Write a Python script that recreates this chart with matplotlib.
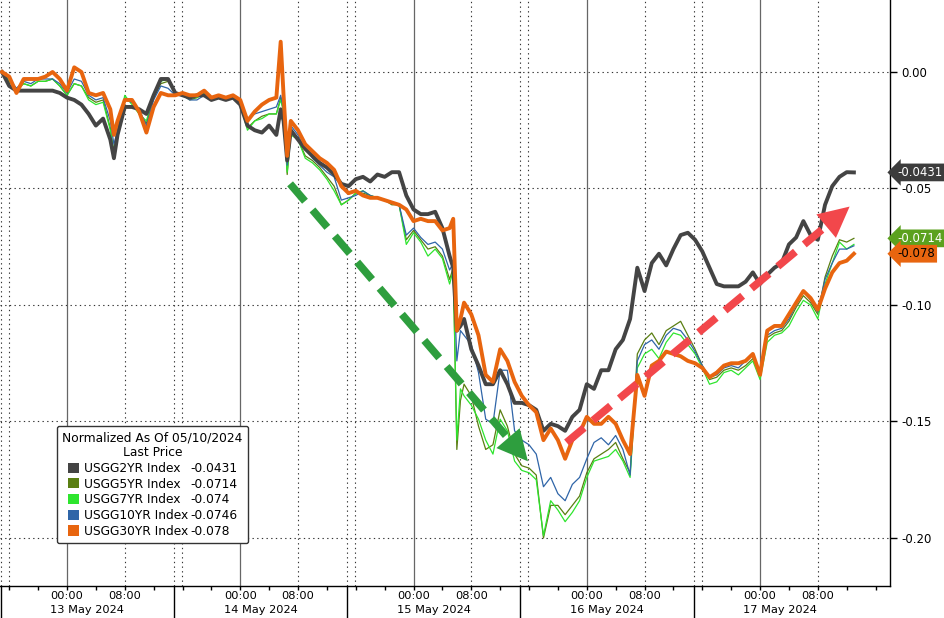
import matplotlib.pyplot as plt
import matplotlib.ticker as mticker
from matplotlib.patches import Patch

plt.rcParams["font.family"] = "DejaVu Sans"
plt.rcParams["axes.unicode_minus"] = False

# ── Data: yield change normalized as of 05/10/2024 ──────────
# x = hours after 13 May 2024 00:00 (session gaps compressed)
hours = [-9, -8, -7, -6, -5, -4, -3, -2, -1, 0, 1, 2, 3, 4, 5, 6,
         6.5, 7, 8, 9, 10, 11, 12, 13, 14, 15,
         16, 17, 18, 19, 20, 21, 22, 23, 24, 25, 26, 27, 28, 29,
         29.6, 30, 30.5, 31, 32, 33, 34, 35, 36, 37, 38, 39,
         40, 41, 42, 43, 44, 45, 46, 47, 48, 49, 50, 51, 52, 53,
         53.5, 54, 54.5, 55, 56, 57, 58, 59, 60, 61, 62, 63, 64, 65,
         66, 67, 68, 69, 70, 71, 72, 73, 74, 75, 76, 77, 78,
         79, 80, 81, 82, 83, 84, 85, 86, 87, 88, 89, 90, 91, 92, 93,
         94, 95, 96, 97, 98, 99, 100, 101, 102, 103, 104, 105, 106, 107, 108, 109]

usgg2yr = [0.000, -0.006, -0.008, -0.008, -0.008, -0.008, -0.008, -0.008, -0.009, -0.011, -0.012, -0.014, -0.018, -0.023, -0.020, -0.029,
           -0.037, -0.027, -0.015, -0.015, -0.016, -0.018, -0.010, -0.003, -0.003, -0.009,
           -0.010, -0.011, -0.010, -0.010, -0.012, -0.011, -0.012, -0.011, -0.014, -0.023, -0.025, -0.026, -0.023, -0.027,
           -0.016, -0.021, -0.038, -0.025, -0.029, -0.033, -0.036, -0.039, -0.041, -0.044, -0.048, -0.049,
           -0.046, -0.045, -0.047, -0.044, -0.045, -0.043, -0.043, -0.053, -0.059, -0.061, -0.061, -0.060, -0.067, -0.079,
           -0.084, -0.111, -0.109, -0.106, -0.119, -0.126, -0.134, -0.134, -0.128, -0.134, -0.142, -0.142, -0.143, -0.145,
           -0.154, -0.151, -0.152, -0.154, -0.148, -0.145, -0.134, -0.136, -0.128, -0.128, -0.119, -0.115, -0.106,
           -0.084, -0.094, -0.082, -0.078, -0.083, -0.076, -0.070, -0.069, -0.072, -0.077, -0.084, -0.091, -0.092, -0.092, -0.092,
           -0.090, -0.086, -0.091, -0.087, -0.084, -0.082, -0.074, -0.071, -0.064, -0.070, -0.072, -0.057, -0.049, -0.045, -0.043, -0.0431]

usgg5yr = [0.000, -0.004, -0.007, -0.005, -0.006, -0.004, -0.004, -0.003, -0.006, -0.010, -0.005, -0.006, -0.011, -0.013, -0.012, -0.024,
           -0.036, -0.026, -0.011, -0.013, -0.018, -0.022, -0.011, -0.005, -0.004, -0.009,
           -0.010, -0.012, -0.011, -0.009, -0.012, -0.011, -0.012, -0.011, -0.014, -0.024, -0.021, -0.019, -0.018, -0.018,
           -0.011, -0.017, -0.044, -0.026, -0.029, -0.036, -0.038, -0.041, -0.045, -0.049, -0.057, -0.055,
           -0.052, -0.052, -0.053, -0.054, -0.055, -0.057, -0.057, -0.072, -0.068, -0.072, -0.076, -0.075, -0.079, -0.089,
           -0.084, -0.162, -0.141, -0.134, -0.139, -0.152, -0.162, -0.160, -0.145, -0.152, -0.164, -0.169, -0.170, -0.173,
           -0.200, -0.186, -0.186, -0.190, -0.186, -0.182, -0.172, -0.166, -0.164, -0.162, -0.159, -0.166, -0.172,
           -0.121, -0.115, -0.112, -0.117, -0.111, -0.109, -0.107, -0.113, -0.119, -0.126, -0.132, -0.131, -0.128, -0.127, -0.128,
           -0.126, -0.123, -0.130, -0.114, -0.112, -0.111, -0.107, -0.101, -0.096, -0.099, -0.104, -0.088, -0.079, -0.072, -0.073, -0.0714]

usgg7yr = [0.000, -0.004, -0.008, -0.005, -0.006, -0.004, -0.004, -0.003, -0.006, -0.010, -0.005, -0.006, -0.012, -0.014, -0.013, -0.025,
           -0.034, -0.026, -0.010, -0.014, -0.018, -0.021, -0.010, -0.004, -0.003, -0.009,
           -0.010, -0.011, -0.011, -0.009, -0.012, -0.011, -0.012, -0.011, -0.014, -0.025, -0.021, -0.020, -0.018, -0.018,
           -0.012, -0.017, -0.043, -0.027, -0.029, -0.037, -0.039, -0.042, -0.046, -0.051, -0.057, -0.055,
           -0.052, -0.051, -0.053, -0.054, -0.055, -0.056, -0.057, -0.074, -0.069, -0.073, -0.079, -0.076, -0.080, -0.091,
           -0.085, -0.158, -0.136, -0.139, -0.143, -0.149, -0.158, -0.164, -0.149, -0.154, -0.167, -0.171, -0.172, -0.175,
           -0.199, -0.184, -0.188, -0.193, -0.189, -0.184, -0.174, -0.167, -0.166, -0.165, -0.162, -0.167, -0.174,
           -0.127, -0.121, -0.119, -0.123, -0.116, -0.112, -0.113, -0.117, -0.121, -0.127, -0.134, -0.133, -0.129, -0.128, -0.130,
           -0.127, -0.124, -0.132, -0.116, -0.113, -0.112, -0.109, -0.103, -0.098, -0.100, -0.106, -0.091, -0.082, -0.073, -0.076, -0.074]

usgg10yr = [0.000, -0.003, -0.007, -0.004, -0.005, -0.003, -0.003, -0.003, -0.005, -0.009, -0.003, -0.004, -0.010, -0.012, -0.011, -0.021,
            -0.031, -0.025, -0.012, -0.013, -0.016, -0.023, -0.012, -0.006, -0.007, -0.010,
            -0.010, -0.012, -0.012, -0.010, -0.012, -0.011, -0.012, -0.011, -0.013, -0.020, -0.018, -0.017, -0.016, -0.015,
            -0.010, -0.016, -0.040, -0.023, -0.027, -0.033, -0.037, -0.040, -0.043, -0.045, -0.055, -0.054,
            -0.053, -0.051, -0.053, -0.054, -0.055, -0.056, -0.057, -0.070, -0.067, -0.071, -0.074, -0.073, -0.076, -0.085,
            -0.082, -0.124, -0.111, -0.113, -0.117, -0.129, -0.149, -0.151, -0.128, -0.128, -0.154, -0.158, -0.160, -0.164,
            -0.178, -0.174, -0.181, -0.184, -0.177, -0.174, -0.166, -0.159, -0.157, -0.160, -0.156, -0.162, -0.173,
            -0.124, -0.117, -0.115, -0.119, -0.113, -0.110, -0.111, -0.115, -0.120, -0.126, -0.131, -0.130, -0.127, -0.126, -0.127,
            -0.124, -0.121, -0.129, -0.113, -0.111, -0.110, -0.106, -0.100, -0.094, -0.098, -0.103, -0.089, -0.082, -0.076, -0.076, -0.0746]

usgg30yr = [0.000, -0.002, -0.009, -0.003, -0.003, -0.003, -0.002, 0.000, -0.003, -0.008, 0.002, 0.000, -0.009, -0.010, -0.009, -0.016,
            -0.027, -0.021, -0.012, -0.012, -0.017, -0.026, -0.015, -0.009, -0.010, -0.010,
            -0.009, -0.010, -0.010, -0.008, -0.011, -0.010, -0.011, -0.010, -0.012, -0.021, -0.017, -0.014, -0.012, -0.011,
            0.013, -0.010, -0.036, -0.021, -0.025, -0.031, -0.034, -0.037, -0.039, -0.042, -0.049, -0.052,
            -0.051, -0.053, -0.054, -0.054, -0.055, -0.056, -0.057, -0.059, -0.064, -0.063, -0.064, -0.064, -0.068, -0.067,
            -0.063, -0.111, -0.106, -0.099, -0.104, -0.113, -0.130, -0.133, -0.119, -0.124, -0.133, -0.139, -0.143, -0.146,
            -0.158, -0.153, -0.158, -0.166, -0.158, -0.155, -0.148, -0.151, -0.151, -0.148, -0.151, -0.158, -0.164,
            -0.130, -0.139, -0.126, -0.124, -0.120, -0.121, -0.122, -0.124, -0.125, -0.127, -0.131, -0.129, -0.126, -0.125, -0.125,
            -0.124, -0.121, -0.130, -0.111, -0.109, -0.109, -0.104, -0.099, -0.094, -0.097, -0.102, -0.093, -0.086, -0.082, -0.081, -0.078]

series_names = ["USGG2YR Index", "USGG5YR Index", "USGG7YR Index", "USGG10YR Index", "USGG30YR Index"]
series_last = ["-0.0431", "-0.0714", "-0.074", "-0.0746", "-0.078"]
series_colors = ["#444444", "#5a7f12", "#2ee52e", "#2f65a8", "#e8650f"]

day_labels = ["13 May 2024", "14 May 2024", "15 May 2024", "16 May 2024", "17 May 2024"]
day_starts = [0, 24, 48, 72, 96]
session_breaks = [-9.2, 14.8, 38.8, 62.8, 86.8]

# annotation arrows (start, tip) in (hours, value)
arrow_down = ((30.9, -0.048), (64.1, -0.168))
arrow_up = ((69.2, -0.159), (108.7, -0.057))

# ── Figure ──────────────────────────────────────────────────
fig = plt.figure(figsize=(9.45, 6.18), dpi=100)
ax = fig.add_axes([0, 0.0518, 0.9418, 0.9482])
ax.set_xlim(-9.28, 114.0)
ax.set_ylim(-0.2206, 0.0309)

for s in ["left", "top"]:
    ax.spines[s].set_visible(False)
for s in ["right", "bottom"]:
    ax.spines[s].set_color("black")
    ax.spines[s].set_linewidth(1)

# grid
dot = (0, (1.2, 3))
for y in [0, -0.05, -0.10, -0.15, -0.20]:
    ax.axhline(y, color="#333333", lw=0.8, ls=dot, zorder=1)
for d in day_starts:
    ax.axvline(d, color="#666666", lw=0.9, zorder=1)
    ax.axvline(d + 8, color="#333333", lw=0.8, ls=dot, zorder=1)
for b in session_breaks:
    ax.axvline(b, color="#333333", lw=0.8, ls=dot, zorder=1)
    ax.axvline(b + 1.1, color="#333333", lw=0.8, ls=dot, zorder=1)
    # long separator below the axis
    ax.axvline(b, ymin=-0.06, ymax=0, color="black", lw=1, clip_on=False)

# lines
all_series = [usgg2yr, usgg5yr, usgg7yr, usgg10yr, usgg30yr]
widths = [2.8, 0.9, 0.9, 0.9, 2.8]
zorders = [4, 3, 3, 3, 5]
draw_order = [1, 2, 3, 0, 4]
for i in draw_order:
    ax.plot(hours, all_series[i], color=series_colors[i], lw=widths[i],
            zorder=zorders[i], solid_joinstyle="round")

# dashed arrows
def dashed_arrow(start, tip, color):
    (x0, y0), (x1, y1) = start, tip
    f = 0.9
    xb, yb = x0 + f * (x1 - x0), y0 + f * (y1 - y0)
    ax.plot([x0, xb], [y0, yb], color=color, lw=5.5, ls=(0, (3, 1.5)),
            dash_capstyle="butt", zorder=6)
    ax.annotate("", xy=(x1, y1), xytext=(x0 + 0.87 * (x1 - x0), y0 + 0.87 * (y1 - y0)),
                arrowprops=dict(arrowstyle="-|>,head_length=1.1,head_width=0.55",
                                color=color, lw=0, mutation_scale=20), zorder=6)

dashed_arrow(*arrow_down, "#2e9e3e")
dashed_arrow(*arrow_up, "#f2474b")

# y axis on the right
ax.yaxis.tick_right()
ax.set_yticks([0, -0.05, -0.10, -0.15, -0.20])
ax.yaxis.set_major_formatter(mticker.FuncFormatter(lambda v, _: f"{v:.2f}".replace("-0.00", "0.00")))
ax.tick_params(axis="y", direction="out", length=5, width=1, pad=3, labelsize=8.5)

# x axis: 00:00 / 08:00 labels, 4h minor ticks, day labels below
major = sorted([d for d in day_starts] + [d + 8 for d in day_starts])
ax.set_xticks(major)
ax.set_xticklabels(["00:00" if t % 24 == 0 else "08:00" for t in major])
ax.xaxis.set_minor_locator(mticker.FixedLocator(list(range(-8, 113, 4))))
ax.tick_params(axis="x", which="both", direction="out", length=3, width=1, pad=0.5, labelsize=8.2)
for b, lab in zip(session_breaks, day_labels):
    ax.text(b + 12, -0.041, lab, transform=ax.get_xaxis_transform(),
            ha="center", va="center", fontsize=8.2)

# last-price tags on the right
tag_style = [(0, "#3c3c3c", "white"), (1, "#5ba11f", "white"), (4, "#e8650f", "black")]
for i, fc, tc in tag_style:
    ax.annotate(series_last[i], xy=(1.0, all_series[i][-1]),
                xycoords=("axes fraction", "data"), xytext=(5, 0),
                textcoords="offset points", ha="left", va="center",
                fontsize=8.5, color=tc, annotation_clip=False,
                bbox=dict(boxstyle="larrow,pad=0.2", fc=fc, ec="none"))

# legend (names + last values as two columns)
handles = [Patch(facecolor=c, edgecolor="none") for c in series_colors]
handles += [Patch(facecolor="none", edgecolor="none") for _ in series_colors]
leg = ax.legend(handles, series_names + series_last, ncol=2,
                title="Normalized As Of 05/10/2024\nLast Price",
                loc="lower left", bbox_to_anchor=(0.064, 0.073), borderaxespad=0,
                fontsize=8.8, title_fontsize=8.8, handlelength=0.9, handleheight=0.9,
                handletextpad=0.4, columnspacing=-1.1, labelspacing=0.22,
                borderpad=0.45, fancybox=True, framealpha=1, edgecolor="#333333")
leg.get_title().set_multialignment("center")
leg.get_frame().set_linewidth(1)
leg.set_zorder(10)

fig.savefig("out.png", dpi=100)
